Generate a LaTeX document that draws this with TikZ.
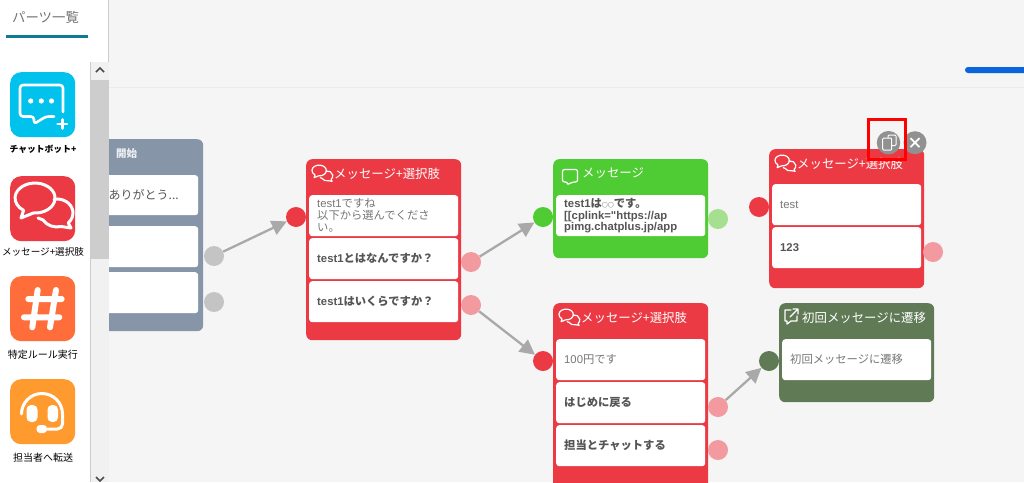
\documentclass[tikz,border=0pt]{standalone}
\usepackage{fontspec}
\usetikzlibrary{arrows.meta}
\setmainfont{Noto Sans CJK JP}
\newfontfamily\la{Liberation Sans}
\definecolor{bgc}{HTML}{F5F5F5}
\definecolor{redc}{HTML}{EC3A45}
\definecolor{redl}{HTML}{F29AA0}
\definecolor{grnc}{HTML}{4FCB33}
\definecolor{grnl}{HTML}{A5DF90}
\definecolor{olvc}{HTML}{607A55}
\definecolor{slac}{HTML}{8696A8}
\definecolor{gryl}{HTML}{C4C4C4}
\definecolor{flowc}{HTML}{A9A9A9}
\definecolor{txtg}{HTML}{777777}
\definecolor{txtb}{HTML}{555555}
\definecolor{rulec}{HTML}{EBEBEB}
\definecolor{trackc}{HTML}{F1F1F1}
\definecolor{thumbc}{HTML}{CDCDCD}
\definecolor{barc}{HTML}{0A64DC}
\definecolor{ulc}{HTML}{0D7C93}
\definecolor{tileblue}{HTML}{00C2EC}
\definecolor{tileorg}{HTML}{FF6E3A}
\definecolor{tileamb}{HTML}{FF9A2E}
\tikzset{
  card/.style={anchor=north west,rounded corners=6pt,inner sep=0pt,minimum width=155pt,draw=none},
  cell/.style={anchor=north west,rounded corners=3pt,fill=white,inner xsep=8pt,inner ysep=0pt,
    minimum width=149pt,minimum height=41pt,text width=133pt,align=left,text=txtg,
    font=\fontsize{11.3}{12}\selectfont},
  opt/.style={cell,text=txtb,font=\fontsize{11.3}{12}\selectfont\bfseries},
  head/.style={anchor=west,inner sep=0pt,text=white,font=\fontsize{12.4}{14}\selectfont},
  port/.style={circle,inner sep=0pt,minimum size=20pt},
  flow/.style={draw=flowc,line width=2.3pt,-{Triangle[length=15pt,width=15pt]}},
  side/.style={anchor=center,inner sep=0pt,font=\fontsize{10}{12}\selectfont},
  tile/.style={anchor=north west,rounded corners=11pt,minimum size=65pt,inner sep=0pt},
  ico/.style={draw=white,line join=round,line cap=round}
}
\newcommand{\dblbubble}[4]{%
  \begin{scope}[shift={(#1,#2)},scale=#3]
    \draw[ico,line width=#4] (-9.7,-8) arc[start angle=265,end angle=595,x radius=20pt,y radius=15pt] -- (-22,-13) -- cycle;
    \draw[ico,line width=#4] (11.2,5.8) arc[start angle=100,end angle=-45,x radius=16pt,y radius=14pt] -- (28,-23) -- (18.1,-21.5)
      arc[start angle=-75,end angle=-150,x radius=16pt,y radius=14pt] -- (-5,-13);
  \end{scope}}
\begin{document}
\begin{tikzpicture}[x=1pt,y=1pt]
\useasboundingbox (0,0) rectangle (1024,-482);
\clip (0,0) rectangle (1024,-482);
\fill[bgc] (0,0) rectangle (1024,-482);
\fill[rulec] (108,-86.5) rectangle (1024,-87.5);
\fill[barc,rounded corners=3pt] (965,-67) rectangle (1040,-73);

% start card
\node[card,fill=slac,minimum width=143pt,minimum height=192pt] (n0) at (60,-139) {};
\node[head,font=\fontsize{10.5}{12}\selectfont\bfseries,text=white!85!slac] (t0) at (116,-153.5) {開始};
\node[cell,minimum width=138pt,minimum height=40pt,text width=122pt,text=txtb,font=\fontsize{12}{13}\selectfont] (c01) at (60,-175) {\hspace*{40.5pt}ありがとう...};
\node[cell,minimum width=138pt,minimum height=41pt,text width=122pt] (c02) at (60,-226) {};
\node[cell,minimum width=138pt,minimum height=41pt,text width=122pt] (c03) at (60,-272) {};
\node[port,fill=gryl] (p01) at (214,-256) {};
\node[port,fill=gryl] (p02) at (214,-302) {};

% card 2
\node[card,fill=redc,minimum height=181pt] (n2) at (306,-159) {};
\dblbubble{322}{-173}{0.36}{1.2pt}
\node[head] (t2) at (334,-173.5) {メッセージ+選択肢};
\node[cell] (c21) at (309,-195) {{\la test1}ですね\\以下から選んでくださ\\い。};
\node[opt] (c22) at (309,-238) {{\la test1}とはなんですか？};
\node[opt] (c23) at (309,-281) {{\la test1}はいくらですか？};
\node[port,fill=redc] (p2i) at (296,-217) {};
\node[port,fill=redl] (p21) at (471,-262) {};
\node[port,fill=redl] (p22) at (471,-305) {};

% card 3
\node[card,fill=grnc,minimum height=99pt] (n3) at (553,-159) {};
\draw[ico,line width=1.2pt,rounded corners=2pt] (562.5,-182) -- (562.5,-169.5) -- (577.5,-169.5) -- (577.5,-182) -- (572,-182) -- (567.5,-185) -- (567.5,-182) -- cycle;
\node[head] (t3) at (582,-173.5) {メッセージ};
\node[opt,font=\fontsize{11.3}{11.7}\selectfont\bfseries] (c31) at (556,-195) {{\la test1}は{\fontsize{6}{6}\selectfont ○○}です。\\{\la [[cplink="https://ap}\\{\la pimg.chatplus.jp/app}};
\node[port,fill=grnc] (p3i) at (543,-217) {};
\node[port,fill=grnl] (p31) at (718,-219) {};

% card 4
\node[card,fill=redc,minimum height=139pt] (n4) at (769,-149) {};
\dblbubble{785}{-163}{0.36}{1.2pt}
\node[head] (t4) at (797,-164) {メッセージ+選択肢};
\node[cell] (c41) at (772,-184) {{\la test}};
\node[opt] (c42) at (772,-227) {{\la 123}};
\node[port,fill=redc] (p4i) at (759,-207) {};
\node[port,fill=redl] (p41) at (933,-252) {};

% card 5
\node[card,fill=redc,minimum height=190pt] (n5) at (553,-303) {};
\dblbubble{569}{-317}{0.36}{1.2pt}
\node[head] (t5) at (581,-318) {メッセージ+選択肢};
\node[cell] (c51) at (556,-339) {{\la 100}円です};
\node[opt] (c52) at (556,-382) {はじめに戻る};
\node[opt] (c53) at (556,-425) {担当とチャットする};
\node[port,fill=redc] (p5i) at (543,-361) {};
\node[port,fill=redl] (p51) at (718,-407) {};
\node[port,fill=redl] (p52) at (718,-450) {};

% card 6
\node[card,fill=olvc,minimum height=99pt] (n6) at (779,-303) {};
\draw[ico,line width=1.3pt] (791,-310) -- (785,-310) -- (785,-321) -- (787,-321) -- (787,-324) -- (791,-321) -- (797,-321) -- (797,-316);
\draw[ico,line width=1.3pt] (790,-317) -- (798,-309) (793,-309) -- (798,-309) -- (798,-314);
\node[head] (t6) at (802,-317.5) {初回メッセージに遷移};
\node[cell] (c61) at (782,-339) {初回メッセージに遷移};
\node[port,fill=olvc] (p6i) at (769,-361) {};

% connectors
\draw[flow] (p01) -- (p2i);
\draw[flow] (p21) -- (p3i);
\draw[flow] (p22) -- (p5i);
\draw[flow] (p51) -- (p6i);

% toolbar over card 4
\node[circle,fill=black!43,minimum size=23pt,inner sep=0pt] (bx) at (915,-142.7) {};
\draw[white,line width=1.8pt] (910.5,-138.2) -- (919.5,-147.2) (910.5,-147.2) -- (919.5,-138.2);
\node[circle,fill=black!43,minimum size=23.5pt,inner sep=0pt] (bc) at (888.5,-142.7) {};
\draw[white,line width=1pt,rounded corners=1pt] (888,-135) rectangle (896,-145.5);
\draw[white,line width=1pt,rounded corners=1pt,fill=black!43] (882.7,-138) rectangle (891.7,-150);
\node[draw=red,line width=3pt,minimum width=37pt,minimum height=40pt,inner sep=0pt] (rb) at (886.5,-139.5) {};

% side panel
\fill[white] (0,0) rectangle (108,-62);
\fill[white] (0,-62) rectangle (90,-482);
\fill[black!20] (108,0) rectangle (109,-62);
\fill[black!20] (90,-62) rectangle (91,-482);
\fill[trackc] (91,-62) rectangle (109,-482);
\fill[thumbc] (91,-80) rectangle (109,-259);
\draw[black!70,line width=1.5pt] (96,-72) -- (100,-68) -- (104,-72);
\draw[black!70,line width=1.5pt] (96,-477) -- (100,-481) -- (104,-477);
\node[anchor=west,inner sep=0pt,text=black!55,font=\fontsize{13.4}{15}\selectfont] (ttl) at (12,-17) {パーツ一覧};
\fill[ulc] (6,-35) rectangle (88,-37.5);

% tile 1
\node[tile,fill=tileblue] (s1) at (10,-72) {};
\draw[ico,line width=2.6pt,rounded corners=3pt] (63,-112) -- (63,-85) -- (20,-85) -- (20,-116.5) -- (34,-116.5) -- (34,-124) -- (46,-116.5) -- (54,-116.5);
\foreach \dx in {30.7,41.3,51.5} \fill[white] (\dx,-101) circle[radius=2.6pt];
\draw[ico,line width=2.6pt] (57.5,-124) -- (67,-124) (62.2,-119.5) -- (62.2,-128.5);
\node[side,font=\fontsize{8.8}{12}\selectfont\bfseries] (l1) at (43,-149) {チャットボット+};

% tile 2
\node[tile,fill=redc] (s2) at (10,-176) {};
\dblbubble{43}{-205}{1}{3pt}
\node[side,font=\fontsize{9.6}{12}\selectfont] (l2) at (43,-252) {メッセージ+選択肢};

% tile 3
\node[tile,fill=tileorg] (s3) at (10,-276) {};
\draw[ico,line width=6pt] (37.7,-290) -- (32.3,-327.3) (56,-290) -- (50,-327.3) (28.3,-299) -- (61.7,-299) (24,-317.3) -- (59.3,-317.3);
\node[side] (l3) at (43,-355) {特定ルール実行};

% tile 4
\node[tile,fill=tileamb] (s4) at (10,-379) {};
\draw[ico,line width=3pt] (21.5,-414) arc[start angle=180,end angle=0,radius=20.5pt] -- (62.5,-424) arc[start angle=0,end angle=-90,radius=5pt] -- (44,-429);
\fill[white,rounded corners=4.5pt] (26.5,-405) rectangle (37.5,-422);
\fill[white,rounded corners=4.5pt] (47.5,-405) rectangle (58,-422);
\fill[white,rounded corners=3.5pt] (36.5,-425) rectangle (47,-433);
\node[side] (l4) at (43,-458) {担当者へ転送};
\end{tikzpicture}
\end{document}
